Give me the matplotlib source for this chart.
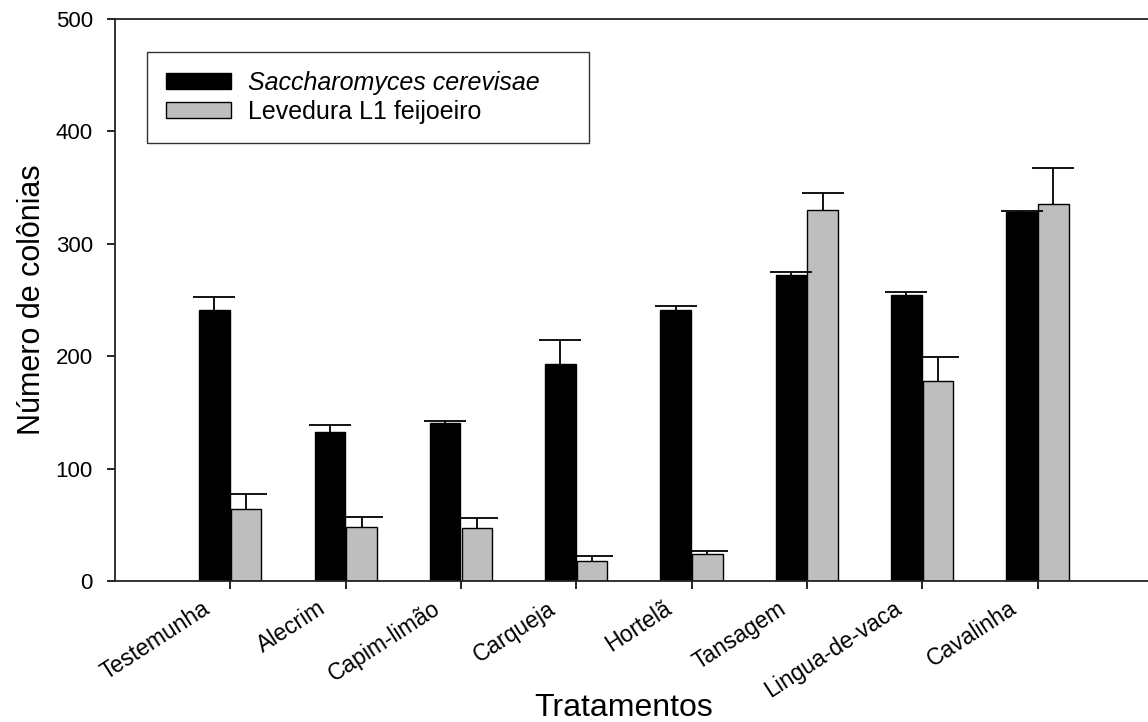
import numpy as np
import matplotlib
matplotlib.use("Agg")
import matplotlib.pyplot as plt

plt.rcParams['font.family'] = ['Liberation Sans', 'DejaVu Sans']

tratamentos = ["Testemunha", "Alecrim", "Capim-limão", "Carqueja", "Hortelã",
               "Tansagem", "Lingua-de-vaca", "Cavalinha"]
saccharomyces = [241, 133, 141, 193, 241, 272, 254, 328]
saccharomyces_err = [12, 6, 1, 21, 4, 3, 3, 1]
levedura = [64, 48, 47, 18, 24, 330, 178, 335]
levedura_err = [13, 9, 9, 4, 3, 15, 21, 32]

x = np.arange(1, len(tratamentos) + 1)
w = 0.265
gray = "#bebebe"

fig = plt.figure(figsize=(11.48, 7.22), dpi=100)
ax = fig.add_axes([0.1002, 0.1953, 0.904, 0.7784])

ekw = dict(ecolor="black", elinewidth=1.3, capsize=15, capthick=1.3)
b1 = ax.bar(x - w / 2 - 0.005, saccharomyces, w, color="black", edgecolor="black",
            linewidth=1, label="Saccharomyces cerevisae",
            yerr=[np.zeros(len(x)), saccharomyces_err], error_kw=ekw)
b2 = ax.bar(x + w / 2 + 0.005, levedura, w, color=gray, edgecolor="black",
            linewidth=1, label="Levedura L1 feijoeiro",
            yerr=[np.zeros(len(x)), levedura_err], error_kw=ekw)
# only the upper cap is shown
for b in (b1, b2):
    caps = b.errorbar.lines[1]
    caps[0].set_visible(False)

ax.set_xlim(0, 9)
ax.set_ylim(0, 500)
ax.set_yticks([0, 100, 200, 300, 400, 500])
ax.set_xticks(x)
ax.set_xticklabels([])
# rotated category labels, shifted left of the tick like the original
for xi, name in zip(x, tratamentos):
    ax.text(xi - 0.25, -0.028, name, transform=ax.get_xaxis_transform(),
            rotation=33, ha="right", va="top", rotation_mode="anchor",
            fontsize=16.5)
ax.tick_params(axis="both", direction="out", length=6, width=1.2)
ax.tick_params(axis="y", labelsize=16, pad=10)
for s in ax.spines.values():
    s.set_linewidth(1.3)
    s.set_color("#222222")

ax.set_ylabel("Número de colônias", fontsize=22, labelpad=6)
ax.set_xlabel("Tratamentos", fontsize=23)
ax.xaxis.set_label_coords(0.49, -0.2)

leg = ax.legend(loc="upper left", bbox_to_anchor=(0.031, 0.941, 0.426, 0.0),
                mode="expand", fontsize=18, handlelength=2.6, handleheight=0.65,
                handletextpad=0.7, borderpad=0.75, labelspacing=0.2,
                fancybox=False, frameon=True, borderaxespad=0)
leg.get_frame().set_edgecolor("black")
leg.get_frame().set_linewidth(1)
leg.get_texts()[0].set_style("italic")

fig.savefig("out.png", dpi=100)
